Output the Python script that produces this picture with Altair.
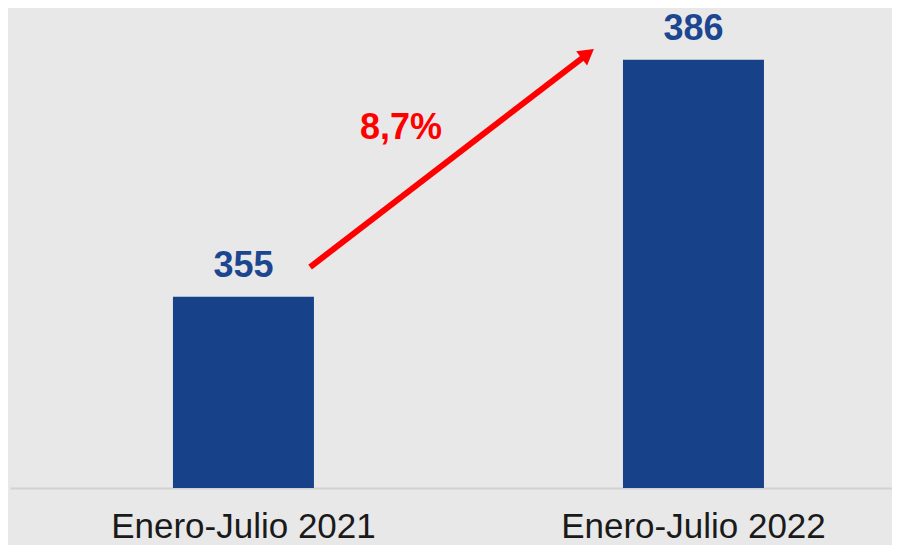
import altair as alt
import pandas as pd

# ---- data ----
categories = ["Enero-Julio 2021", "Enero-Julio 2022"]
values = [355, 386]
value_labels = ["355", "386"]

y_min, y_max = 330, 392

# arrow annotation, x in "category index" units (0 = first bar, 1 = second bar)
arrow_x = [0.148, 0.765]
arrow_y = [358.9, 386.8]
arrow_head_x = [0.765]
arrow_head_y = [386.8]
growth_label = ["8,7%"]
growth_x = [0.35]
growth_y = [375.6]
idx_domain = [-0.5189, 1.4411]

bar_color = "#17428a"
text_blue = "#1c4690"
red = "#ff0000"

bars_df = pd.DataFrame({"cat": categories, "value": values, "label": value_labels})
arrow_df = pd.DataFrame({"x": arrow_x, "y": arrow_y, "order": [0, 1]})
head_df = pd.DataFrame({"x": arrow_head_x, "y": arrow_head_y})
growth_df = pd.DataFrame({"x": growth_x, "y": growth_y, "t": growth_label})

yscale = alt.Scale(domain=[y_min, y_max], zero=False, nice=False)
xband = alt.Scale(paddingInner=0.6867, paddingOuter=0.3233, align=0.56)
xlin = alt.Scale(domain=idx_domain, nice=False, zero=False)

base = alt.Chart(bars_df)

bars = base.mark_bar(color=bar_color).encode(
    x=alt.X("cat:N", scale=xband, sort=categories, title=None,
            axis=alt.Axis(labelAngle=0, labelFontSize=35, labelFont="Liberation Sans",
                          labelColor="#1a1a1a", labelPadding=21, labelLimit=0,
                          ticks=False, domainColor="#d2d2d2", domainWidth=2, grid=False)),
    y=alt.Y("value:Q", scale=yscale, axis=None),
    y2=alt.datum(y_min),
)

labels = base.mark_text(font="Liberation Sans", fontWeight="bold", fontSize=36,
                        color=text_blue, baseline="alphabetic", dy=-20).encode(
    x=alt.X("cat:N", scale=xband, sort=categories),
    y=alt.Y("value:Q", scale=yscale),
    text="label:N",
)

arrow_line = alt.Chart(arrow_df).mark_line(color=red, strokeWidth=6).encode(
    x=alt.X("x:Q", scale=xlin, axis=None),
    y=alt.Y("y:Q", scale=yscale),
    order="order:O",
)

arrow_head = alt.Chart(head_df).mark_point(shape="triangle-up", filled=True, opacity=1,
                                           color=red, size=320, angle=52.5).encode(
    x=alt.X("x:Q", scale=xlin, axis=None),
    y=alt.Y("y:Q", scale=yscale),
)

growth = alt.Chart(growth_df).mark_text(font="Liberation Sans", fontWeight="bold",
                                        fontSize=36, color=red, baseline="alphabetic").encode(
    x=alt.X("x:Q", scale=xlin, axis=None),
    y=alt.Y("y:Q", scale=yscale),
    text="t:N",
)

left = alt.layer(bars, labels)
right = alt.layer(arrow_line, arrow_head, growth)

chart = alt.layer(left, right).resolve_scale(x="independent").properties(
    width=882, height=474,
    padding={"left": 2, "top": 6, "right": 0, "bottom": 57},
    autosize=alt.AutoSizeParams(type="none"),
    background="#e8e8e8",
).configure_view(stroke=None)

chart.save("out.html", embed_options={"renderer": "svg", "actions": False})
